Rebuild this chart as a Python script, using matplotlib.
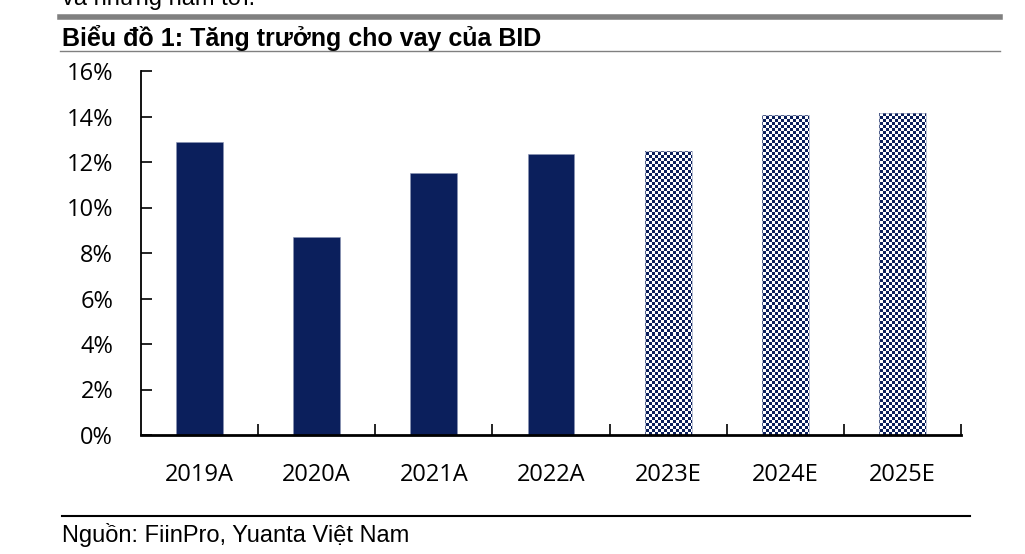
import numpy as np
import matplotlib.pyplot as plt
from matplotlib.lines import Line2D
from matplotlib.colors import ListedColormap

plt.rcParams['font.family'] = ['Liberation Sans', 'DejaVu Sans']

# data
years = ['2019A', '2020A', '2021A', '2022A', '2023E', '2024E', '2025E']
growth = [12.9, 8.7, 11.5, 12.35, 12.5, 14.05, 14.15]
is_estimate = [False, False, False, False, True, True, True]
yticks = [0, 2, 4, 6, 8, 10, 12, 14, 16]

navy = '#0b1f5c'

fig = plt.figure(figsize=(10.25, 5.54), dpi=100)
ax = fig.add_axes([141 / 1025, 1 - 435 / 554, (961 - 141) / 1025, (435 - 71) / 554])

x = np.arange(len(years))
bars = ax.bar(x, growth, width=0.4, color=navy, edgecolor='#8a94b4', linewidth=0.4, zorder=2)

ax.set_xlim(-0.5, len(years) - 0.5)
ax.set_ylim(0, 16)

# checker texture for the forecast bars
ncx, ncy = 820 // 3, 364 // 3
checker = (np.indices((ncy, ncx)).sum(axis=0) % 2).astype(float)
cmap = ListedColormap(['white', navy])
for b, est in zip(bars, is_estimate):
    if est:
        b.set_facecolor('none')
        im = ax.imshow(checker, cmap=cmap, extent=(-0.5, len(years) - 0.5, 0, 16),
                       aspect='auto', interpolation='nearest', zorder=1)
        im.set_clip_path(b)

tick_font = {'family': ['Open Sans', 'DejaVu Sans'], 'size': 17}
ax.set_yticks(yticks)
ax.set_yticklabels([f'{v}%' for v in yticks], fontdict=tick_font)
ax.set_xticks(x)
ax.set_xticklabels(years, fontdict=tick_font)
ax.set_xticks(np.arange(len(years)) + 0.5, minor=True)

ax.tick_params(axis='y', direction='in', length=8, width=1.2, pad=20)
ax.tick_params(axis='x', which='major', length=0, pad=20)
ax.tick_params(axis='x', which='minor', direction='in', length=8, width=1.2)

for s in ['top', 'right']:
    ax.spines[s].set_visible(False)
ax.spines['left'].set_linewidth(1.3)
ax.spines['bottom'].set_linewidth(2)

# page decorations around the chart
fig.text(62 / 1025, 1 + 1 / 554, 'và những năm tới.', fontsize=17, va='center', ha='left')
fig.add_artist(Line2D([60 / 1025, 1000 / 1025], [1 - 16.5 / 554] * 2, color='#808080', linewidth=4))
fig.text(62 / 1025, 1 - 38 / 554, 'Biểu đồ 1: Tăng trưởng cho vay của BID', fontsize=18,
         fontweight='bold', va='center', ha='left')
fig.add_artist(Line2D([60 / 1025, 1000 / 1025], [1 - 51 / 554] * 2, color='#808080', linewidth=1))
fig.add_artist(Line2D([62 / 1025, 970 / 1025], [1 - 516 / 554] * 2, color='black', linewidth=1.5))
fig.text(62 / 1025, 1 - 535 / 554, 'Nguồn: FiinPro, Yuanta Việt Nam', fontsize=17,
         va='center', ha='left')

fig.savefig('out.png', dpi=100)
